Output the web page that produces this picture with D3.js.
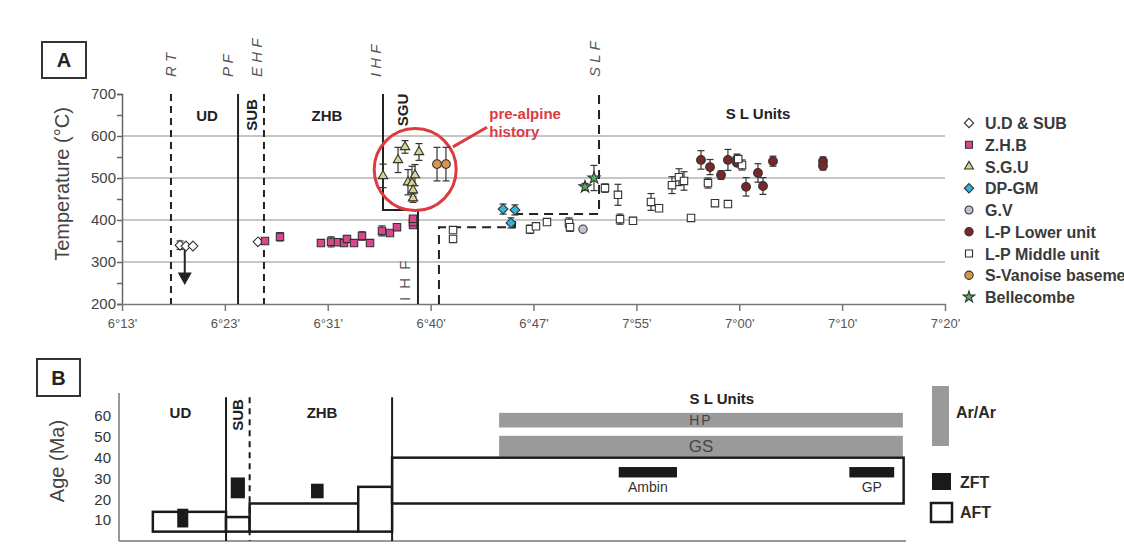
<!DOCTYPE html>
<meta charset="utf-8">
<title>Temperature and age profile</title>
<style>
body { margin: 0; background: #fff; }
text { font-family: "Liberation Sans", Arial, sans-serif; }
.grid { stroke: #b3b3b3; stroke-width: 1.5; }
.err { stroke: #333; stroke-width: 1.2; fill: none; }
.mark { stroke: #333; stroke-width: 1.1; }
</style>
<body>
<script src="https://cdn.jsdelivr.net/npm/d3@7"></script>
<script>

// ---- panel A data: x in tick steps (0 = 6°13' ... 8 = 7°20'), T in °C, error ± °C
var xTickLabels = ["6°13'", "6°23'", "6°31'", "6°40'", "6°47'", "7°55'", "7°00'", "7°10'", "7°20'"];
var tempTicks = [200, 300, 400, 500, 600, 700];

var udSub = [[0.564, 340, 10], [0.622, 338, 0], [0.690, 338, 0], [1.322, 348, 0]];
var zhb = [[1.390, 350, 0], [1.536, 360, 10], [1.934, 345, 0], [2.032, 348, 12], [2.100, 347, 0],
  [2.158, 345, 0], [2.187, 355, 8], [2.255, 345, 0], [2.333, 362, 10], [2.411, 345, 0],
  [2.527, 374, 12], [2.605, 369, 0], [2.673, 383, 5], [2.829, 388, 0], [2.829, 395, 0], [2.829, 403, 0]];
var sgu = [[2.537, 505, 28], [2.683, 543, 30], [2.751, 574, 15], [2.887, 562, 20], [2.780, 490, 30],
  [2.819, 488, 40], [2.848, 507, 25], [2.829, 471, 15], [2.829, 452, 10]];
var dpgm = [[3.704, 426, 12], [3.820, 424, 12], [3.781, 393, 12]];
var gv = [[4.481, 378, 0]];
var lpLower = [[5.628, 543, 22], [5.716, 526, 18], [5.823, 507, 10], [5.890, 543, 25], [5.978, 545, 12],
  [5.978, 536, 0], [6.066, 479, 22], [6.182, 512, 22], [6.231, 481, 20], [6.328, 540, 12],
  [6.814, 540, 10], [6.814, 529, 10]];
var lpMiddle = [[3.218, 376, 0], [3.218, 355, 0], [3.966, 378, 10], [4.024, 385, 0], [4.131, 395, 0],
  [4.345, 393, 12], [4.355, 383, 10], [4.695, 476, 10], [4.821, 460, 25], [4.841, 402, 12],
  [4.967, 398, 8], [5.142, 443, 20], [5.220, 428, 0], [5.346, 483, 20], [5.414, 502, 20],
  [5.463, 493, 22], [5.531, 405, 0], [5.696, 488, 12], [5.764, 440, 0], [5.890, 438, 0],
  [6.027, 531, 12], [5.990, 545, 0]];
var vanoise = [[3.062, 533, 40], [3.149, 533, 40]];
var bellecombe = [[4.501, 479, 8], [4.588, 500, 30]];

var seriesNames = ["U.D & SUB", "Z.H.B", "S.G.U", "DP-GM", "G.V", "L-P Lower unit", "L-P Middle unit", "S-Vanoise basement", "Bellecombe"];
var seriesData = [udSub, zhb, sgu, dpgm, gv, lpLower, lpMiddle, vanoise, bellecombe];

// faults along the profile (tick steps)
var faultRT = 0.476, faultPF = 1.128, faultEHF = 1.380;
var ihfUpper = 2.537, ihfLower = 2.877, ihfStepT = 424;
var slfLow = 3.081, slfStepX = 3.82, slfMid = 4.637, slfLowT = 383, slfStepT = 414;

// ---- panel B data: x = position along profile (0-100), ages in Ma
var ageTicks = [10, 20, 30, 40, 50, 60];
var aftBoxes = [[4.3, 13.6, 4.5, 14], [13.6, 16.6, 4.5, 11.5], [16.6, 30.4, 4.5, 18], [30.4, 34.7, 4.5, 26], [34.7, 99.7, 18, 40]];
var zftBoxes = [[7.4, 8.8, 6.5, 15.5], [14.2, 16.0, 20.5, 30.5], [24.4, 26.0, 20.5, 27.5], [63.5, 70.9, 30.5, 35.5], [92.8, 98.5, 30.5, 35.5]];
var zftNames = ["", "", "", "Ambin", "GP"];
var arBars = [[48.3, 99.6, 54.5, 61.5], [48.3, 99.6, 40.5, 50.5]];
var arNames = ["HP", "GS"];

var width = 1124, height = 558;
var svg = d3.select("body").append("svg")
    .attr("width", width)
    .attr("height", height)
    .style("background", "#fff");

// ================= panel A =================
var x = d3.scaleLinear().domain([0, 8]).range([122, 945]);
var y = d3.scaleLinear().domain([200, 700]).range([304, 94]);

// gridlines
svg.append("g").selectAll("line")
    .data([300, 400, 500, 600])
  .enter().append("line")
    .attr("class", "grid")
    .attr("x1", x(0)).attr("x2", x(8))
    .attr("y1", function(d) { return y(d); })
    .attr("y2", function(d) { return y(d); });

// axes
var yAxis = svg.append("g")
    .attr("transform", "translate(" + x(0) + ",0)")
    .call(d3.axisLeft(y).tickValues(d3.range(200, 701, 50)).tickSize(5)
      .tickFormat(function(d) { return d % 100 === 0 ? d : ""; }));
yAxis.selectAll("text").attr("font-size", 15).attr("fill", "#444").attr("x", -6).attr("font-family", "Liberation Sans");
yAxis.selectAll("line, path").attr("stroke", "#666").attr("stroke-width", 1.5);

var xAxis = svg.append("g")
    .attr("transform", "translate(0," + y(200) + ")")
    .call(d3.axisBottom(x).ticks(8).tickSize(7).tickSizeOuter(0)
      .tickFormat(function(d, i) { return xTickLabels[i]; }));
xAxis.selectAll("text").attr("font-size", 13).attr("fill", "#555").attr("dy", "1.05em").attr("font-family", "Liberation Sans");
xAxis.selectAll("line, path").attr("stroke", "#777").attr("stroke-width", 1.5);

svg.append("text")
    .attr("transform", "translate(69,184) rotate(-90)")
    .attr("text-anchor", "middle")
    .attr("font-size", 20).attr("fill", "#444")
    .text("Temperature (°C)");

// fault lines
var faults = svg.append("g").attr("fill", "none").attr("stroke", "#222").attr("stroke-width", 2);
faults.append("line").attr("x1", x(faultRT)).attr("x2", x(faultRT)).attr("y1", y(700)).attr("y2", y(200))
    .attr("stroke-dasharray", "7,5");
faults.append("line").attr("x1", x(faultPF)).attr("x2", x(faultPF)).attr("y1", y(700)).attr("y2", y(200));
faults.append("line").attr("x1", x(faultEHF)).attr("x2", x(faultEHF)).attr("y1", y(700)).attr("y2", y(200))
    .attr("stroke-dasharray", "7,5");
faults.append("path")
    .attr("d", d3.line()([[x(ihfUpper), y(700)], [x(ihfUpper), y(ihfStepT)], [x(ihfLower), y(ihfStepT)], [x(ihfLower), y(200)]]));
faults.append("path")
    .attr("stroke-dasharray", "9,6")
    .attr("d", d3.line()([[x(slfLow), y(200)], [x(slfLow), y(slfLowT)], [x(slfStepX), y(slfLowT)],
      [x(slfStepX), y(slfStepT)], [x(slfMid), y(slfStepT)], [x(slfMid), y(700)]]));

// fault names on top
var faultLabels = [["R T", faultRT, 5], ["P F", faultPF, -5], ["E H F", faultEHF, -2], ["I H F", ihfUpper, -2], ["S L F", slfMid, 1]];
svg.append("g").selectAll("text")
    .data(faultLabels)
  .enter().append("text")
    .attr("transform", function(d) { return "translate(" + (x(d[1]) + d[2]) + ",77) rotate(-90)"; })
    .attr("font-size", 15).attr("font-style", "italic").attr("fill", "#555")
    .text(function(d) { return d[0]; });
svg.append("text")
    .attr("transform", "translate(" + (x(ihfLower) - 8) + ",301) rotate(-90)")
    .attr("font-size", 15).attr("fill", "#555").attr("letter-spacing", 2)
    .text("I H F");

// unit names
var bold = function(sel) { return sel.attr("font-weight", "bold").attr("font-size", 15).attr("fill", "#222"); };
bold(svg.append("text").attr("x", 207).attr("y", 121).attr("text-anchor", "middle").text("UD"));
bold(svg.append("text").attr("x", 327).attr("y", 121).attr("text-anchor", "middle").text("ZHB"));
bold(svg.append("text").attr("x", 758).attr("y", 119).attr("text-anchor", "middle").text("S L Units"));
bold(svg.append("text").attr("transform", "translate(257,115) rotate(-90)").attr("text-anchor", "middle").text("SUB"));
bold(svg.append("text").attr("transform", "translate(408,110) rotate(-90)").attr("text-anchor", "middle").text("SGU"));

// pre-alpine annotation
var red = "#dc3b3f";
svg.append("circle")
    .attr("cx", x(2.85)).attr("cy", y(520)).attr("r", 41)
    .attr("fill", "none").attr("stroke", red).attr("stroke-width", 3);
svg.append("line")
    .attr("x1", x(3.217)).attr("y1", y(574)).attr("x2", x(3.548)).attr("y2", y(621))
    .attr("stroke", red).attr("stroke-width", 3);
svg.append("text").attr("x", x(3.57)).attr("y", y(641)).attr("font-size", 15).attr("font-weight", "bold").attr("fill", red).text("pre-alpine");
svg.append("text").attr("x", x(3.57)).attr("y", y(598)).attr("font-size", 15).attr("font-weight", "bold").attr("fill", red).text("history");

// UD arrow
svg.append("line").attr("x1", x(0.61)).attr("x2", x(0.61)).attr("y1", y(333)).attr("y2", y(268))
    .attr("stroke", "#222").attr("stroke-width", 2);
svg.append("path")
    .attr("d", d3.line()([[x(0.61) - 7, y(275)], [x(0.61) + 7, y(275)], [x(0.61), y(245)]]))
    .attr("fill", "#222");

// square rotated 45 degrees, like the reference diamonds
var rhomb = {
  draw: function(ctx, size) {
    var r = Math.sqrt(size / 2);
    ctx.moveTo(0, -r); ctx.lineTo(r, 0); ctx.lineTo(0, r); ctx.lineTo(-r, 0); ctx.closePath();
  }
};

// series styles
var symTypes = [rhomb, d3.symbolSquare, d3.symbolTriangle, rhomb, d3.symbolCircle,
  d3.symbolCircle, d3.symbolSquare, d3.symbolCircle, d3.symbolStar];
var symSizes = [48, 55, 38, 48, 55, 60, 55, 60, 45];
var fills = ["#fff", "#d8468c", "#d7d58c", "#35b3d8", "#c9bdd3", "#7b2727", "#fff", "#d9964b", "#58ad5a"];

// error bars
seriesData.forEach(function(data) {
  var g = svg.append("g").attr("class", "err");
  data.filter(function(d) { return d[2] > 0; }).forEach(function(d) {
    var cx = x(d[0]);
    g.append("line").attr("x1", cx).attr("x2", cx).attr("y1", y(d[1] - d[2])).attr("y2", y(d[1] + d[2]));
    g.append("line").attr("x1", cx - 3.5).attr("x2", cx + 3.5).attr("y1", y(d[1] - d[2])).attr("y2", y(d[1] - d[2]));
    g.append("line").attr("x1", cx - 3.5).attr("x2", cx + 3.5).attr("y1", y(d[1] + d[2])).attr("y2", y(d[1] + d[2]));
  });
});

// markers
seriesData.forEach(function(data, i) {
  svg.append("g").selectAll("path")
      .data(data)
    .enter().append("path")
      .attr("class", "mark")
      .attr("transform", function(d) { return "translate(" + x(d[0]) + "," + y(d[1]) + ")"; })
      .attr("d", d3.symbol().type(symTypes[i]).size(symSizes[i]))
      .attr("fill", fills[i]);
});

// legend A
var legA = svg.append("g").selectAll("g")
    .data(seriesNames)
  .enter().append("g")
    .attr("transform", function(d, i) { return "translate(969," + (123 + i * 21.75) + ")"; });
legA.append("path")
    .attr("class", "mark")
    .attr("d", function(d, i) { return d3.symbol().type(symTypes[i]).size(symSizes[i] * 0.9)(); })
    .attr("fill", function(d, i) { return fills[i]; });
legA.append("text")
    .attr("x", 16).attr("y", 6)
    .attr("font-size", 16).attr("font-weight", "bold").attr("fill", "#3a3a3a")
    .text(function(d) { return d; });

// panel letter boxes
function letterBox(x0, y0, w, h, t) {
  svg.append("rect").attr("x", x0).attr("y", y0).attr("width", w).attr("height", h)
      .attr("fill", "#fff").attr("stroke", "#333").attr("stroke-width", 2);
  svg.append("text").attr("x", x0 + w / 2).attr("y", y0 + h / 2 + 7).attr("text-anchor", "middle")
      .attr("font-size", 20).attr("font-weight", "bold").attr("fill", "#222").text(t);
}
letterBox(42, 42, 44, 36, "A");
letterBox(37, 359, 43, 37, "B");

// ================= panel B =================
var xB = d3.scaleLinear().domain([0, 100]).range([119, 906]);
var yB = d3.scaleLinear().domain([0, 60]).range([541, 416]);

var bAxis = svg.append("g")
    .attr("transform", "translate(" + (xB(0) - 5) + ",0)")
    .call(d3.axisLeft(yB).tickValues(ageTicks).tickSize(0));
bAxis.select(".domain").remove();
bAxis.selectAll("text").attr("font-size", 15).attr("fill", "#333").attr("font-family", "Liberation Sans");

svg.append("line").attr("x1", xB(0)).attr("x2", xB(0)).attr("y1", yB(71)).attr("y2", yB(0))
    .attr("stroke", "#555").attr("stroke-width", 1.2);
svg.append("line").attr("x1", xB(0)).attr("x2", xB(100)).attr("y1", yB(0)).attr("y2", yB(0))
    .attr("stroke", "#777").attr("stroke-width", 1.5);

svg.append("text")
    .attr("transform", "translate(64,461) rotate(-90)")
    .attr("text-anchor", "middle")
    .attr("font-size", 20).attr("fill", "#444")
    .text("Age (Ma)");

// Ar/Ar bars
var ar = svg.append("g").selectAll("g").data(arBars).enter().append("g");
ar.append("rect")
    .attr("x", function(d) { return xB(d[0]); })
    .attr("width", function(d) { return xB(d[1]) - xB(d[0]); })
    .attr("y", function(d) { return yB(d[3]); })
    .attr("height", function(d) { return yB(d[2]) - yB(d[3]); })
    .attr("fill", "#9a9a9a");
ar.append("text")
    .attr("x", function(d) { return xB((d[0] + d[1]) / 2); })
    .attr("y", function(d, i) { return yB((d[2] + d[3]) / 2) + (i === 0 ? 5 : 6); })
    .attr("text-anchor", "middle")
    .attr("font-size", function(d, i) { return i === 0 ? 14 : 17; })
    .attr("letter-spacing", function(d, i) { return i === 0 ? 2 : 0; })
    .attr("fill", "#444")
    .text(function(d, i) { return arNames[i]; });

// AFT boxes
svg.append("g").selectAll("rect").data(aftBoxes).enter().append("rect")
    .attr("x", function(d) { return xB(d[0]); })
    .attr("width", function(d) { return xB(d[1]) - xB(d[0]); })
    .attr("y", function(d) { return yB(d[3]); })
    .attr("height", function(d) { return yB(d[2]) - yB(d[3]); })
    .attr("fill", "#fff").attr("stroke", "#1a1a1a").attr("stroke-width", 2.5);

// ZFT boxes
svg.append("g").selectAll("rect").data(zftBoxes).enter().append("rect")
    .attr("x", function(d) { return xB(d[0]); })
    .attr("width", function(d) { return xB(d[1]) - xB(d[0]); })
    .attr("y", function(d) { return yB(d[3]); })
    .attr("height", function(d) { return yB(d[2]) - yB(d[3]); })
    .attr("fill", "#1a1a1a");
svg.append("g").selectAll("text").data(zftBoxes).enter().append("text")
    .attr("x", function(d) { return xB((d[0] + d[1]) / 2); })
    .attr("y", function(d) { return yB(d[2]) + 15; })
    .attr("text-anchor", "middle")
    .attr("font-size", 14).attr("fill", "#333")
    .text(function(d, i) { return zftNames[i]; });

// unit boundaries in B
var bLines = svg.append("g").attr("stroke", "#1a1a1a").attr("stroke-width", 2);
bLines.append("line").attr("x1", xB(13.6)).attr("x2", xB(13.6)).attr("y1", yB(69)).attr("y2", yB(0));
bLines.append("line").attr("x1", xB(16.6)).attr("x2", xB(16.6)).attr("y1", yB(69)).attr("y2", yB(0))
    .attr("stroke-dasharray", "6,5");
bLines.append("line").attr("x1", xB(34.7)).attr("x2", xB(34.7)).attr("y1", yB(69)).attr("y2", yB(0));

bold(svg.append("text").attr("x", xB(7.8)).attr("y", 418).attr("text-anchor", "middle").text("UD"));
bold(svg.append("text").attr("x", xB(25.8)).attr("y", 418).attr("text-anchor", "middle").text("ZHB"));
bold(svg.append("text").attr("x", xB(76.6)).attr("y", 404).attr("text-anchor", "middle").text("S L Units"));
bold(svg.append("text").attr("transform", "translate(" + (xB(15.1) + 5) + ",415) rotate(-90)").attr("text-anchor", "middle").text("SUB"));

// legend B
svg.append("rect").attr("x", 932).attr("y", 386).attr("width", 17).attr("height", 60).attr("fill", "#9a9a9a");
svg.append("rect").attr("x", 932).attr("y", 473).attr("width", 19).attr("height", 17).attr("fill", "#1a1a1a");
svg.append("rect").attr("x", 931).attr("y", 503).attr("width", 21).attr("height", 19)
    .attr("fill", "#fff").attr("stroke", "#1a1a1a").attr("stroke-width", 2.5);
var legB = [["Ar/Ar", 956, 418], ["ZFT", 960, 488], ["AFT", 960, 518]];
legB.forEach(function(d) {
  svg.append("text").attr("x", d[1]).attr("y", d[2]).attr("font-size", 16).attr("font-weight", "bold")
      .attr("fill", "#2a2a2a").text(d[0]);
});

</script>
</body>
